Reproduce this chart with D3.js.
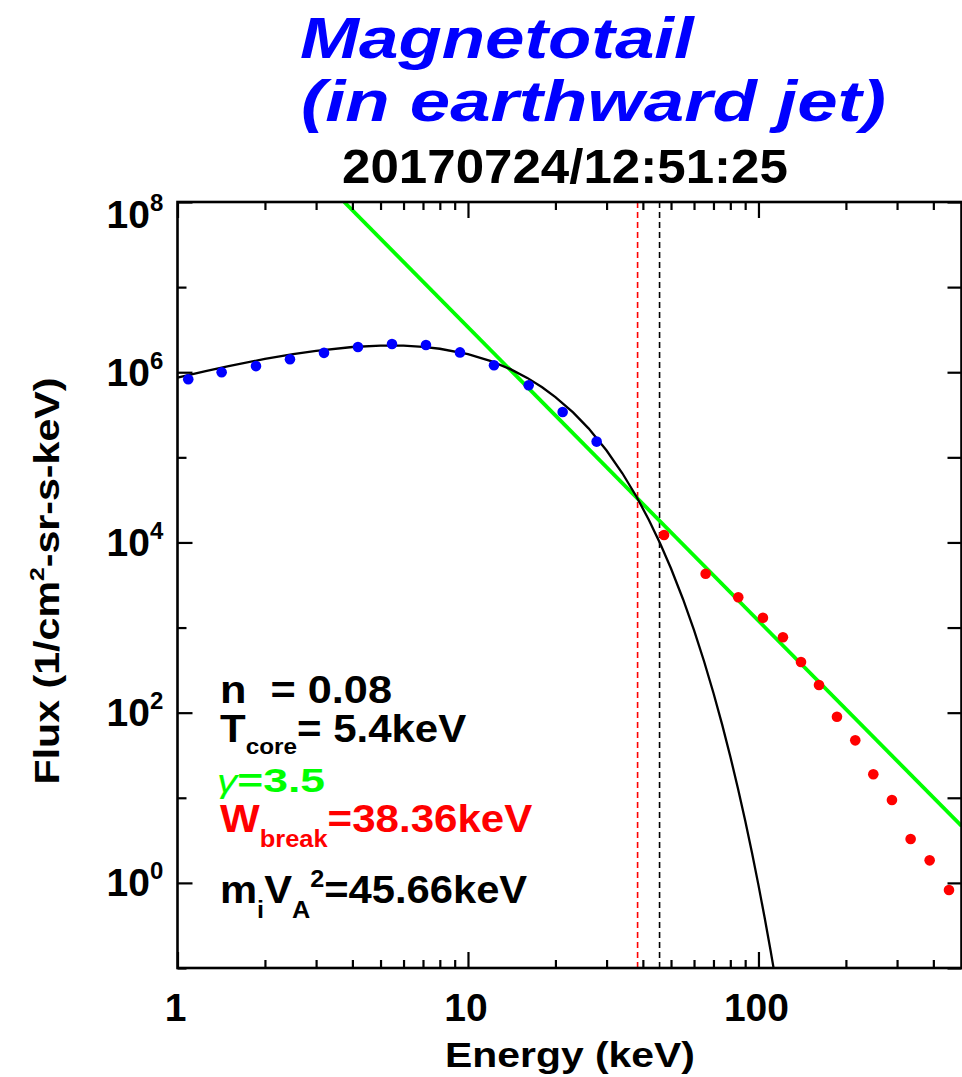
<!DOCTYPE html>
<html>
<head>
<meta charset="utf-8">
<script src="https://cdn.jsdelivr.net/npm/d3@7"></script>
<style>
  body { margin: 0; background: #fff; }
  svg { display: block; }
  text { font-family: "Liberation Sans", Arial, Helvetica, sans-serif; font-weight: bold; }
</style>
</head>
<body>
<svg id="chart" width="962" height="1077"></svg>
<script>
// Measured ion flux, core channels (keV, 1/cm^2-sr-s-keV)
const coreEnergy = [1.089, 1.419, 1.863, 2.439, 3.194, 4.181, 5.475, 7.168, 9.386, 12.29, 16.18, 21.18, 27.73];
const coreFlux   = [8.26e5, 9.98e5, 1.18e6, 1.42e6, 1.69e6, 1.98e6, 2.15e6, 2.09e6, 1.71e6, 1.21e6, 7.02e5, 3.41e5, 1.53e5];

// Measured ion flux, high-energy channels
const tailEnergy = [47.3, 65.8, 85.2, 103.6, 121.4, 140.1, 161.6, 186.3, 215.4, 248.5, 288.1, 334.1, 388.4, 452.8];
const tailFlux   = [1.223e4, 4291, 2267, 1305, 768, 393.8, 211.3, 89.6, 47.3, 18.9, 9.41, 3.28, 1.84, 0.825];

// Maxwellian core fit curve
const fitEnergy = [1, 1.25, 1.5, 2, 2.5, 3, 4, 5, 6, 7, 8, 10, 12, 14, 16, 18, 20, 23, 26, 30, 34, 38, 42, 46,
                   50, 55, 60, 65, 70, 75, 80, 85, 90, 95, 100, 105, 110, 115];
const fitFlux   = [8.62e5, 1.029e6, 1.179e6, 1.433e6, 1.632e6, 1.785e6, 1.979e6, 2.056e6, 2.050e6, 1.987e6,
                   1.887e6, 1.628e6, 1.349e6, 1.087e6, 8.58e5, 6.66e5, 5.11e5, 3.37e5, 2.19e5, 1.203e5,
                   6.50e4, 3.47e4, 1.826e4, 9.54e3, 4.94e3, 2153, 931, 399, 170.4, 72.3, 30.6, 12.86,
                   5.40, 2.257, 0.941, 0.3915, 0.1625, 0.0673];

// Power-law tail fit (end points)
const powerEnergy = [3.749, 500];
const powerFlux   = [1e8, 4.66];

// Fit parameters
const density = 0.08;
const tCore = 5.4;
const gammaIndex = 3.5;
const wBreak = 38.36;
const alfvenEnergy = 45.66;

// Axis ticks
const xMajorTicks = [1, 10, 100];
const xMinorTicks = [2, 3, 4, 5, 6, 7, 8, 9, 20, 30, 40, 50, 60, 70, 80, 90, 200, 300, 400];
const yLabelExps  = [0, 2, 4, 6, 8];
const yMinorTicks = [1e-1, 1e1, 1e3, 1e5, 1e7];

const svg = d3.select("#chart");
const L = 177.5, R = 961.5, T = 202, B = 968;

const x = d3.scaleLog().domain([1, 500]).range([L, R]);
const y = d3.scaleLog().domain([0.1, 1e8]).range([B, T]);

// stretch a text group horizontally to a given width
function fitWidth(g, width) {
  const bb = g.node().getBBox();
  const tr = g.attr("transform") || "";
  g.attr("transform", tr + ` scale(${width / bb.width},1)`);
}

// ---------- titles ----------
function titleLine(str, x0, yb, size, width, color, italic) {
  const g = svg.append("g").attr("transform", `translate(${x0},${yb})`);
  g.append("text").attr("font-size", size).attr("fill", color)
    .attr("font-style", italic ? "italic" : "normal").text(str);
  fitWidth(g, width);
}
titleLine("Magnetotail", 300, 58, 58, 396, "#0000ff", true);
titleLine("(in earthward jet)", 301, 121, 58, 585, "#0000ff", true);
titleLine("20170724/12:51:25", 342, 183, 49, 446, "#000", false);

// ---------- plot clip ----------
svg.append("clipPath").attr("id", "plotClip")
  .append("rect").attr("x", L).attr("y", T).attr("width", R - L).attr("height", B - T);
const plot = svg.append("g").attr("clip-path", "url(#plotClip)");

// dashed reference lines
plot.append("line").attr("x1", x(wBreak)).attr("x2", x(wBreak)).attr("y1", T).attr("y2", B)
  .attr("stroke", "#ff0000").attr("stroke-width", 1.6).attr("stroke-dasharray", "6,4");
plot.append("line").attr("x1", x(alfvenEnergy)).attr("x2", x(alfvenEnergy)).attr("y1", T).attr("y2", B)
  .attr("stroke", "#000").attr("stroke-width", 1.6).attr("stroke-dasharray", "6,4");

// power-law fit
const line = d3.line().x(d => x(d[0])).y(d => y(d[1]));
plot.append("path").datum(d3.zip(powerEnergy, powerFlux)).attr("d", line)
  .attr("fill", "none").attr("stroke", "#00ff00").attr("stroke-width", 3.8);

// Maxwellian fit
plot.append("path").datum(d3.zip(fitEnergy, fitFlux)).attr("d", line)
  .attr("fill", "none").attr("stroke", "#000").attr("stroke-width", 2.3);

// data points
plot.selectAll("circle.core").data(d3.zip(coreEnergy, coreFlux)).join("circle")
  .attr("class", "core").attr("cx", d => x(d[0])).attr("cy", d => y(d[1])).attr("r", 5.3)
  .attr("fill", "#0000ff");
plot.selectAll("circle.tail").data(d3.zip(tailEnergy, tailFlux)).join("circle")
  .attr("class", "tail").attr("cx", d => x(d[0])).attr("cy", d => y(d[1])).attr("r", 5.3)
  .attr("fill", "#ff0000");

// ---------- axes ----------
function tickAxis(axis, transform) {
  const g = svg.append("g").attr("transform", transform).call(axis);
  g.select(".domain").remove();
  g.selectAll(".tick line").attr("stroke", "#000").attr("stroke-width", 2.2);
  g.selectAll(".tick text").remove();
  return g;
}
tickAxis(d3.axisBottom(x).tickValues(xMajorTicks).tickSize(-16), `translate(0,${B})`);
tickAxis(d3.axisBottom(x).tickValues(xMinorTicks).tickSize(-8), `translate(0,${B})`);
tickAxis(d3.axisTop(x).tickValues(xMajorTicks).tickSize(-16), `translate(0,${T})`);
tickAxis(d3.axisTop(x).tickValues(xMinorTicks).tickSize(-8), `translate(0,${T})`);
tickAxis(d3.axisLeft(y).tickValues(yLabelExps.map(e => Math.pow(10, e))).tickSize(-15), `translate(${L},0)`);
tickAxis(d3.axisLeft(y).tickValues(yMinorTicks).tickSize(-9), `translate(${L},0)`);
tickAxis(d3.axisRight(y).tickValues(yLabelExps.map(e => Math.pow(10, e)).concat(yMinorTicks)).tickSize(-14), `translate(${R},0)`);

svg.append("rect").attr("x", L).attr("y", T).attr("width", R - L).attr("height", B - T)
  .attr("fill", "none").attr("stroke", "#000").attr("stroke-width", 2.6);

// x tick labels
xMajorTicks.forEach(v => {
  svg.append("text").attr("x", x(v) - 2).attr("y", 1021).attr("text-anchor", "middle")
    .attr("font-size", 39).text(d3.format("d")(v));
});

// y tick labels: 10 with superscript exponent
yLabelExps.forEach(e => {
  const ty = Math.max(y(Math.pow(10, e)), T + 12);
  const g = svg.append("g").attr("transform", `translate(150,${ty + 13.5})`);
  g.append("text").attr("text-anchor", "end").attr("font-size", 39).text("10");
  g.append("text").attr("x", 0).attr("y", -17).attr("font-size", 24).text(e);
});

// axis titles
{
  const g = svg.append("g").attr("transform", "translate(570,1067)");
  g.append("text").attr("text-anchor", "middle").attr("font-size", 36).text("Energy (keV)");
  const bb = g.node().getBBox();
  g.attr("transform", `translate(570,1067) scale(${250 / bb.width},1)`);
}
{
  const g = svg.append("g").attr("transform", "translate(59,581) rotate(-90)");
  const t = g.append("text").attr("text-anchor", "middle").attr("font-size", 35);
  t.append("tspan").text("Flux (1/cm");
  t.append("tspan").attr("font-size", 21).attr("dy", -15).text("2");
  t.append("tspan").attr("dy", 15).text("-sr-s-keV)");
  const bb = t.node().getBBox();
  g.attr("transform", `translate(59,581) rotate(-90) scale(${407 / bb.width},1)`);
}

// ---------- fit parameter annotations ----------
function annot(x0, yb, width, color, size, parts) {
  const g = svg.append("g").attr("transform", `translate(${x0},${yb})`);
  const t = g.append("text").attr("fill", color).attr("font-size", size);
  parts.forEach(p => {
    const s = t.append("tspan").attr("y", p.dy || 0).text(p.t);
    if (p.size) s.attr("font-size", p.size);
    if (p.style) s.attr("font-style", p.style);
    if (p.weight) s.attr("font-weight", p.weight);
  });
  fitWidth(g, width);
}
annot(220, 703, 172, "#000", 38, [{ t: "n\u00a0 = " + density.toFixed(2) }]);
annot(220, 742, 247, "#000", 38, [{ t: "T" }, { t: "core", size: 22, dy: 12 }, { t: "= " + tCore.toFixed(1) + "keV" }]);
annot(217, 792, 108, "#00ff00", 34, [{ t: "\u03b3", style: "italic", weight: "normal", size: 31 }, { t: "=" + gammaIndex.toFixed(1) }]);
annot(220, 832, 313, "#ff0000", 38, [{ t: "W" }, { t: "break", size: 23, dy: 15 }, { t: "=" + wBreak.toFixed(2) + "keV" }]);
annot(220, 903, 308, "#000", 38, [{ t: "m" }, { t: "i", size: 23, dy: 15 }, { t: "V" }, { t: "A", size: 23, dy: 15 },
  { t: "2", size: 23, dy: -16 }, { t: "=" + alfvenEnergy.toFixed(2) + "keV" }]);
</script>
</body>
</html>
